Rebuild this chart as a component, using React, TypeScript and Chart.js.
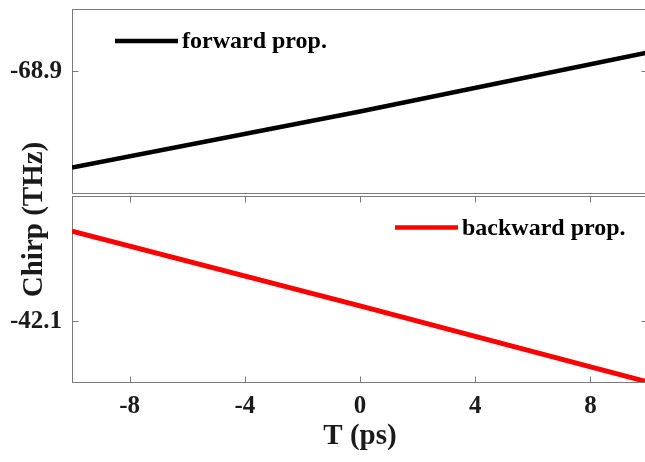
import React, { useEffect, useRef } from "react";
import { Chart, registerables } from "chart.js";

Chart.register(...registerables);

// ---- data ----
const T_PS = [-10, 0, 10];
const FORWARD_CHIRP = [-69.21, -69.03, -68.84];
const BACKWARD_CHIRP = [-41.81, -42.05, -42.295];
const X_TICKS = [-8, -4, 0, 4, 8];
const FORWARD_TICKS = [-68.9];
const BACKWARD_TICKS = [-42.1];
const FORWARD_RANGE = [-69.3, -68.7];
const BACKWARD_RANGE = [-42.295, -41.695];
const X_RANGE = [-10, 10];
const SERIES_LABELS = ["forward prop.", "backward prop."];
const X_TITLE = "T (ps)";
const Y_TITLE = "Chirp (THz)";

// ---- style ----
const FONT = "'Liberation Serif', 'Times New Roman', serif";
const TEXT = "#1a1a1a";
const FRAME = "#7a7a7a";
const W = 660;
const H = 462;
const TICK_LEN = 6;

const panelsPlugin = {
  id: "panels",
  beforeDatasetsDraw(chart: any) {
    const ctx = chart.ctx;
    const { left, right } = chart.chartArea;
    const yt = chart.scales.yTop;
    const yb = chart.scales.yBot;
    const xs = chart.scales.x;
    const L = Math.round(left) + 0.5;
    const R = Math.round(right) - 0.5;
    const topBox = { t: Math.round(yt.top) + 0.5, b: Math.round(yt.bottom) - 2.5 };
    const botBox = { t: Math.round(yb.top) + 0.5, b: Math.round(yb.bottom) + 0.5 };
    ctx.save();
    ctx.strokeStyle = FRAME;
    ctx.lineWidth = 1;
    [topBox, botBox].forEach((b) => {
      ctx.strokeRect(L, b.t, R - L, b.b - b.t);
    });
    ctx.beginPath();
    [yt, yb].forEach((s: any) => {
      s.ticks.forEach((t: any) => {
        const p = Math.round(s.getPixelForValue(t.value)) + 0.5;
        ctx.moveTo(L, p);
        ctx.lineTo(L + TICK_LEN, p);
        ctx.moveTo(R, p);
        ctx.lineTo(R - TICK_LEN, p);
      });
    });
    xs.ticks.forEach((t: any) => {
      const p = Math.round(xs.getPixelForValue(t.value)) + 0.5;
      ctx.moveTo(p, botBox.t);
      ctx.lineTo(p, botBox.t + TICK_LEN);
      ctx.moveTo(p, botBox.b);
      ctx.lineTo(p, botBox.b - TICK_LEN);
    });
    ctx.stroke();
    ctx.restore();
  },
  afterDraw(chart: any) {
    const ctx = chart.ctx;
    const { left, right } = chart.chartArea;
    const yt = chart.scales.yTop;
    const yb = chart.scales.yBot;
    ctx.save();
    // legends
    const entries = [
      { ds: chart.data.datasets[0], x: left + 43, y: yt.top + 32 },
      { ds: chart.data.datasets[1], x: right - 253, y: yb.top + 32 },
    ];
    entries.forEach((e) => {
      ctx.strokeStyle = e.ds.borderColor;
      ctx.lineWidth = 4.5;
      ctx.beginPath();
      ctx.moveTo(e.x, e.y);
      ctx.lineTo(e.x + 63, e.y);
      ctx.stroke();
      ctx.fillStyle = "#000";
      ctx.font = `bold 24px ${FONT}`;
      ctx.textAlign = "left";
      ctx.textBaseline = "alphabetic";
      ctx.fillText(e.ds.label, e.x + 67, e.y + 7);
    });
    // y title
    ctx.translate(42, (yt.top + yb.bottom) / 2 + 24);
    ctx.rotate(-Math.PI / 2);
    ctx.fillStyle = TEXT;
    ctx.font = `bold 29px ${FONT}`;
    ctx.textAlign = "center";
    ctx.textBaseline = "alphabetic";
    ctx.fillText(Y_TITLE, 0, 0);
    ctx.restore();
  },
};

function yScale(range: number[], ticks: number[]) {
  return {
    type: "linear",
    position: "left",
    stack: "panels",
    stackWeight: 1,
    min: range[0],
    max: range[1],
    afterBuildTicks: (s: any) => {
      s.ticks = ticks.map((v) => ({ value: v }));
    },
    afterFit: (s: any) => {
      s.width = 72;
      s.paddingTop = 0;
      s.paddingBottom = 0;
    },
    grid: { display: false, drawTicks: false },
    border: { display: false },
    ticks: {
      padding: 10,
      color: TEXT,
      font: { family: FONT, size: 25, weight: "bold" },
      callback: (v: any) => Number(v).toFixed(1),
    },
  };
}

export default function App() {
  const ref = useRef<HTMLCanvasElement | null>(null);
  useEffect(() => {
    if (!ref.current) return;
    const chart = new Chart(ref.current, {
      type: "line",
      data: {
        datasets: [
          {
            label: SERIES_LABELS[0],
            data: T_PS.map((x, i) => ({ x, y: FORWARD_CHIRP[i] })),
            yAxisID: "yTop",
            borderColor: "#000000",
            borderWidth: 4.5,
            pointRadius: 0,
            fill: false,
            tension: 0,
          },
          {
            label: SERIES_LABELS[1],
            data: T_PS.map((x, i) => ({ x, y: BACKWARD_CHIRP[i] })),
            yAxisID: "yBot",
            borderColor: "#ff0000",
            borderWidth: 5,
            pointRadius: 0,
            fill: false,
            tension: 0,
            clip: 0,
          },
        ],
      },
      options: {
        responsive: false,
        animation: false,
        layout: { padding: { left: 0, top: 9, right: 12, bottom: 0 } },
        plugins: { legend: { display: false }, tooltip: { enabled: false } },
        scales: {
          x: {
            type: "linear",
            position: "bottom",
            min: X_RANGE[0],
            max: X_RANGE[1],
            afterBuildTicks: (s: any) => {
              s.ticks = X_TICKS.map((v) => ({ value: v }));
            },
            afterFit: (s: any) => {
              s.height = 80;
              s.paddingLeft = 0;
              s.paddingRight = 0;
            },
            grid: { display: false, drawTicks: false },
            border: { display: false },
            ticks: {
              padding: 10,
              color: TEXT,
              maxRotation: 0,
              font: { family: FONT, size: 25, weight: "bold" },
              callback: (v: any) => String(v),
            },
            title: {
              display: true,
              text: X_TITLE,
              color: TEXT,
              font: { family: FONT, size: 29, weight: "bold" },
              padding: { top: 0, bottom: 8 },
            },
          },
          yBot: yScale(BACKWARD_RANGE, BACKWARD_TICKS),
          yTop: yScale(FORWARD_RANGE, FORWARD_TICKS),
        } as any,
      },
      plugins: [panelsPlugin],
    } as any);
    return () => chart.destroy();
  }, []);
  return (
    <div style={{ position: "fixed", inset: 0, overflow: "hidden", background: "#fff" }}>
      <div style={{ position: "absolute", left: 0, top: 0, width: W, height: H }}>
        <canvas ref={ref} width={W} height={H} style={{ width: W, height: H, display: "block" }} />
      </div>
    </div>
  );
}
